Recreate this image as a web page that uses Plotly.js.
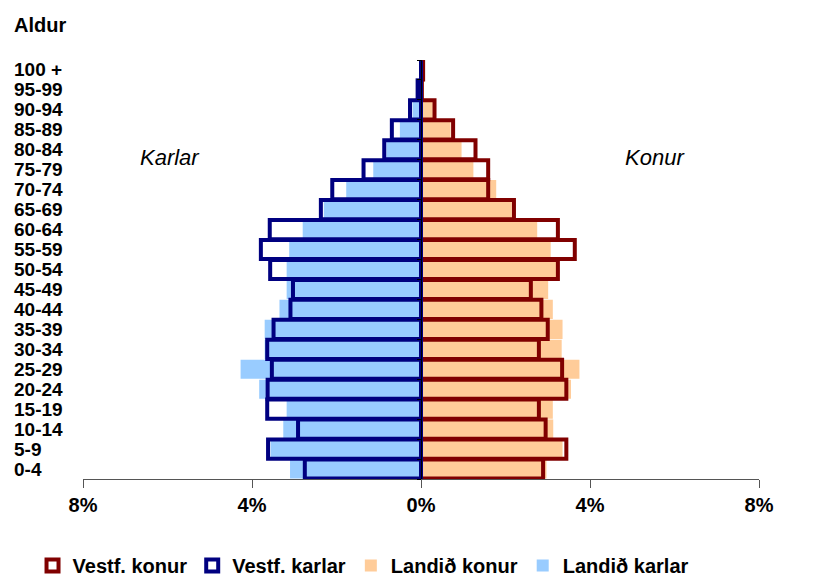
<!DOCTYPE html>
<html>
<head>
<meta charset="utf-8">
<script src="https://cdn.plot.ly/plotly-3.0.1.min.js"></script>
<style>html,body{margin:0;padding:0;background:#fff;}#chart{width:813px;height:585px;}</style>
</head>
<body>
<div id="chart"></div>
<script>
const categories = ['0-4','5-9','10-14','15-19','20-24','25-29','30-34','35-39','40-44','45-49','50-54','55-59','60-64','65-69','70-74','75-79','80-84','85-89','90-94','95-99','100 +'];
const vestfKarlar = [2.75,3.62,2.91,3.64,3.63,3.53,3.64,3.49,3.09,3.03,3.57,3.79,3.58,2.37,2.10,1.36,0.87,0.69,0.26,0.08,0.0];
const landidKarlar = [3.10,3.56,3.26,3.18,3.83,4.27,3.70,3.70,3.35,3.18,3.18,3.12,2.80,2.30,1.77,1.13,0.82,0.50,0.20,0.05,0.01];
const vestfKonur = [2.89,3.44,2.95,2.79,3.44,3.34,2.79,3.00,2.85,2.60,3.24,3.64,3.24,2.20,1.59,1.59,1.29,0.76,0.32,0.02,0.05];
const landidKonur = [2.97,3.35,3.13,3.12,3.55,3.75,3.33,3.35,3.12,3.01,3.20,3.07,2.75,2.15,1.78,1.24,0.96,0.70,0.28,0.07,0.02];
const xTickVals = [-8,-4,0,4,8];
const xTickText = ['8%','4%','0%','4%','8%'];

const FONT = '"Liberation Sans", Arial, sans-serif';
const neg = a => a.map(v => -v);

const traces = [
  {type:'bar', orientation:'h', name:'Landið konur', y:categories, x:landidKonur,
   marker:{color:'#FFCC99', line:{width:0}}, legendrank:3, hoverinfo:'skip'},
  {type:'bar', orientation:'h', name:'Landið karlar', y:categories, x:neg(landidKarlar),
   marker:{color:'#99CCFF', line:{width:0}}, legendrank:4, hoverinfo:'skip'},
  {type:'bar', orientation:'h', name:'Vestf. konur', y:categories, x:vestfKonur,
   marker:{color:'rgba(255,255,255,0)', line:{color:'#800000', width:4}}, legendrank:1, hoverinfo:'skip'},
  {type:'bar', orientation:'h', name:'Vestf. karlar', y:categories, x:neg(vestfKarlar),
   marker:{color:'rgba(255,255,255,0)', line:{color:'#000080', width:4}}, legendrank:2, hoverinfo:'skip'}
];

const annotations = categories.map(c => ({
  text:'<b>'+c+'</b>', xref:'paper', x:-0.105, xanchor:'left', yref:'y', y:c, yanchor:'middle',
  showarrow:false, font:{family:FONT, size:19, color:'#000'}
}));
annotations.push({text:'<b>Aldur</b>', xref:'paper', x:-0.105, xanchor:'left', yref:'paper', y:1.0835, yanchor:'middle', showarrow:false, font:{family:FONT, size:20, color:'#000'}});
annotations.push({text:'<i>Karlar</i>', xref:'paper', x:0.129, xanchor:'center', yref:'paper', y:0.768, yanchor:'middle', showarrow:false, font:{family:FONT, size:22, color:'#000'}});
annotations.push({text:'<i>Konur</i>', xref:'paper', x:0.846, xanchor:'center', yref:'paper', y:0.768, yanchor:'middle', showarrow:false, font:{family:FONT, size:22, color:'#000'}});

const layout = {
  width:813, height:585,
  margin:{l:83, r:54, t:60, b:106, autoexpand:false},
  paper_bgcolor:'#fff', plot_bgcolor:'#fff',
  barmode:'overlay', bargap:0.04,
  font:{family:FONT, color:'#000'},
  xaxis:{range:[-8,8], tickvals:xTickVals, ticktext:xTickText, ticks:'outside', ticklen:8, tickcolor:'#555',
         showline:true, linecolor:'#555', linewidth:1, showgrid:false, zeroline:false,
         tickfont:{family:FONT, size:20, color:'#000', weight:'bold'}, fixedrange:true, automargin:false},
  yaxis:{type:'category', categoryorder:'array', categoryarray:categories, range:[-0.5,20.5],
         anchor:'free', position:0.5, showline:true, linecolor:'#000', linewidth:1,
         ticks:'outside', ticklen:4, tickcolor:'#000', tickson:'boundaries', showticklabels:false,
         showgrid:false, zeroline:false, fixedrange:true, automargin:false},
  showlegend:true,
  legend:{orientation:'h', xref:'container', yref:'container', x:0.04, xanchor:'left', y:-0.02, yanchor:'bottom',
          traceorder:'normal', font:{family:FONT, size:20, color:'#000', weight:'bold'}, itemwidth:30,
          itemclick:false, itemdoubleclick:false},
  annotations:annotations
};

Plotly.newPlot('chart', traces, layout, {displayModeBar:false, staticPlot:true});
</script>
</body>
</html>
